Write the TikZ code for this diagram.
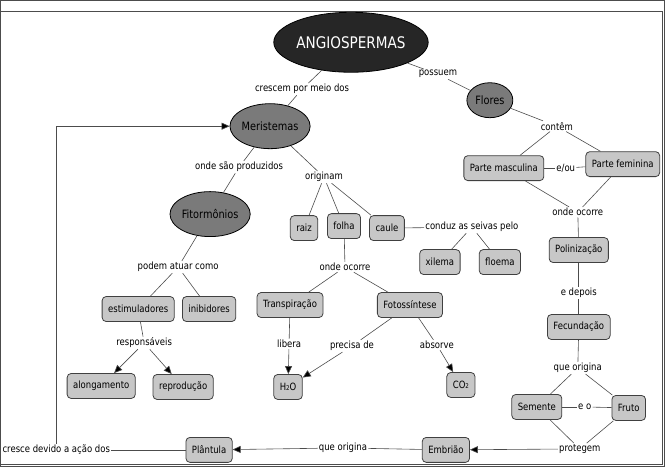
\documentclass[tikz,border=0pt]{standalone}
\usepackage{fontspec}
\setmainfont[FakeStretch=0.85]{DejaVu Sans}
\usetikzlibrary{arrows.meta,shapes}

\begin{document}
\begin{tikzpicture}[x=1pt,y=-1pt,>={Triangle[length=8pt,width=7pt]},font=\fontsize{10}{12}\selectfont]
  \tikzset{box/.style={draw=black!75,thick,fill=black!22,rounded corners=4pt,minimum height=25pt,inner xsep=6pt},
    hub/.style={ellipse,draw=black,thick,fill=black!52,inner sep=0pt,font=\fontsize{11.5}{13}\selectfont},
    lnk/.style={inner sep=1pt},
    every path/.style={draw=black!70,semithick}}
  \useasboundingbox (0,0) rectangle (665,466);
  \draw (0.5,11) rectangle (663,464);
  % ellipses
  \node[hub,fill=black!85,text=white,minimum width=124pt,minimum height=60pt,font=\fontsize{16}{18}\selectfont] (angio) at (351,42) {ANGIOSPERMAS};
  \node[hub,minimum width=74pt,minimum height=45pt] (meri) at (270,126) {Meristemas};
  \node[hub,minimum width=46pt,minimum height=35pt] (flores) at (490,100) {Flores};
  \node[hub,minimum width=76pt,minimum height=45pt] (fito) at (210,214) {Fitormônios};
  % boxes
  \node[box] (pmasc)   at (504,168) {Parte masculina};
  \node[box] (pfem)    at (623,164) {Parte feminina};
  \node[box] (polin)   at (579,250) {Polinização};
  \node[box] (fecund)  at (579,327) {Fecundação};
  \node[box] (semente) at (537,407) {Semente};
  \node[box] (fruto)   at (629,408) {Fruto};
  \node[box] (embriao) at (446,450) {Embrião};
  \node[box] (plantula) at (209,450) {Plântula};
  \node[box] (raiz)    at (304,228) {raiz};
  \node[box] (folha)   at (344,226) {folha};
  \node[box] (caule)   at (387,228) {caule};
  \node[box] (xilema)  at (440,262) {xilema};
  \node[box] (floema)  at (500,262) {floema};
  \node[box] (transp)  at (290,305) {Transpiração};
  \node[box] (foto)    at (410,305) {Fotossíntese};
  \node[box] (agua)    at (288,387) {H{\fontsize{6.5}{7}\selectfont 2}O};
  \node[box] (carb)    at (461,385) {CO{\fontsize{6.5}{7}\selectfont 2}};
  \node[box] (estim)   at (138,309) {estimuladores};
  \node[box] (inib)    at (209,309) {inibidores};
  \node[box] (along)   at (101,386) {alongamento};
  \node[box] (reprod)  at (183,387) {reprodução};
  % linking phrases
  \node[lnk] (crescem) at (302,89)  {crescem por meio dos};
  \node[lnk] (possuem) at (438,74)  {possuem};
  \node[lnk] (contem)  at (557,126) {contêm};
  \node[lnk] (eou)     at (566,168) {e/ou};
  \node[lnk] (ocorreA) at (578,212) {onde ocorre};
  \node[lnk] (depois)  at (579,293) {e depois};
  \node[lnk] (originaA) at (578,368) {que origina};
  \node[lnk] (eo)      at (585,407) {e o};
  \node[lnk] (protegem) at (580,449) {protegem};
  \node[lnk] (originaB) at (343,448) {que origina};
  \node[lnk] (cresce)  at (56,450)  {cresce devido a ação dos};
  \node[lnk] (produz)  at (239,167) {onde são produzidos};
  \node[lnk] (originam) at (324,177) {originam};
  \node[lnk] (conduz)  at (472,227) {conduz as seivas pelo};
  \node[lnk] (ocorreB) at (345,267) {onde ocorre};
  \node[lnk] (libera)  at (289,344) {libera};
  \node[lnk] (precisa) at (352,346) {precisa de};
  \node[lnk] (absorve) at (437,345) {absorve};
  \node[lnk] (atuar)   at (178,267) {podem atuar como};
  \node[lnk] (resp)    at (144,343) {responsáveis};
  % connectors
  \path (angio) edge (crescem) (crescem) edge (meri);
  \path (angio) edge (possuem) (possuem) edge (flores);
  \path (flores) edge (contem) (contem) edge (pmasc) (contem) edge (pfem);
  \path (pmasc) edge (eou) (eou) edge (pfem);
  \path (pmasc) edge (ocorreA) (pfem) edge (ocorreA) (ocorreA) edge (polin);
  \path (polin) edge (depois) (depois) edge (fecund);
  \path (fecund) edge (originaA) (originaA) edge (semente) (originaA) edge (fruto);
  \path (semente) edge (eo) (eo) edge (fruto);
  \path (semente) edge (protegem) (fruto) edge (protegem);
  \path[->] (protegem) edge[-{>[fill=black]}] (embriao);
  \path (embriao) edge (originaB);
  \path[->] (originaB) edge[-{>[fill=black]}] (plantula);
  \path (plantula) edge (cresce);
  \draw[-{>[fill=black]}] (cresce) |- (meri);
  \path (meri) edge (produz) (produz) edge (fito);
  \path (meri) edge (originam) (originam) edge (raiz) (originam) edge (folha) (originam) edge (caule);
  \path (caule) edge (conduz) (conduz) edge (xilema) (conduz) edge (floema);
  \path (folha) edge (ocorreB) (ocorreB) edge (transp) (ocorreB) edge (foto);
  \path (transp) edge (libera);
  \path (libera) edge[-{>[fill=black]}] (agua);
  \path (foto) edge (precisa);
  \path (precisa) edge[-{>[fill=black]}] (agua);
  \path (foto) edge (absorve);
  \path (absorve) edge[-{>[fill=black]}] (carb);
  \path (fito) edge (atuar) (atuar) edge (estim) (atuar) edge (inib);
  \path (estim) edge (resp);
  \path (resp) edge[-{>[fill=black]}] (along) (resp) edge[-{>[fill=black]}] (reprod);
\end{tikzpicture}
\end{document}
